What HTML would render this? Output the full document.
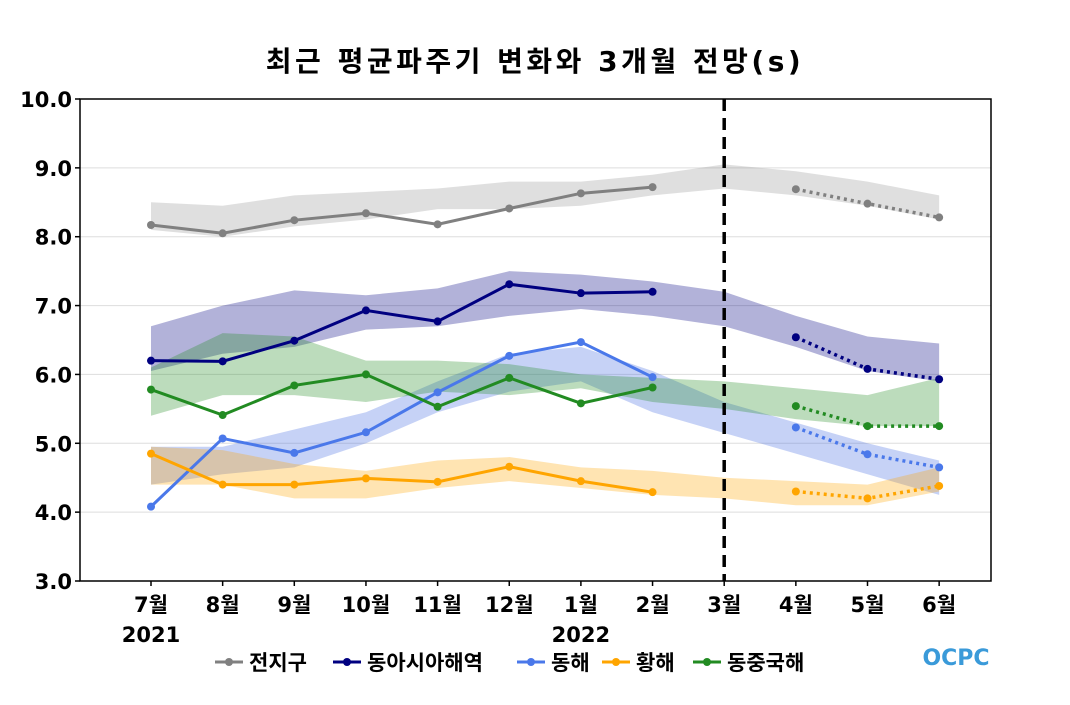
<!DOCTYPE html>
<html><head><meta charset="utf-8">
<style>
body{margin:0;background:#fff;}
svg text{font-family:"DejaVu Sans","Noto Sans CJK KR",sans-serif;}
</style></head>
<body>
<svg id="chart" width="1070" height="700" xmlns="http://www.w3.org/2000/svg">
<text x="535" y="71" text-anchor="middle" font-size="28" font-weight="bold" letter-spacing="3.5">최근 평균파주기 변화와 3개월 전망(s)</text>
<g id="grid"></g><g id="bands"></g><g id="lines"></g><g id="axes"></g>
<g id="legend"></g>
<text x="956" y="665" text-anchor="middle" font-size="22" font-weight="bold" fill="#3a9ad9">OCPC</text>
</svg>
<script>
const months=["7월","8월","9월","10월","11월","12월","1월","2월","3월","4월","5월","6월"];
const yTicks=[3,4,5,6,7,8,9,10];
const names=["전지구","동아시아해역","동해","황해","동중국해"];
const colors=["#808080","#000080","#4a78ea","#ffa500","#228b22"];
const bandFill=["rgba(128,128,128,0.25)","rgba(0,0,128,0.3)","rgba(65,105,225,0.3)","rgba(255,165,0,0.3)","rgba(34,139,34,0.3)"];
const obsGlobal=[8.17,8.05,8.24,8.34,8.18,8.41,8.63,8.72];
const obsEastAsia=[6.2,6.19,6.49,6.93,6.77,7.31,7.18,7.20];
const obsEastSea=[4.08,5.07,4.86,5.16,5.74,6.27,6.47,5.96];
const obsYellow=[4.85,4.40,4.40,4.49,4.44,4.66,4.45,4.29];
const obsECS=[5.78,5.41,5.84,6.0,5.53,5.95,5.58,5.81];
const fcGlobal=[8.69,8.48,8.28];
const fcEastAsia=[6.54,6.08,5.93];
const fcEastSea=[5.23,4.84,4.65];
const fcYellow=[4.30,4.20,4.38];
const fcECS=[5.54,5.25,5.25];
const upGlobal=[8.5,8.45,8.6,8.65,8.7,8.8,8.8,8.9,9.05,8.95,8.8,8.6];
const loGlobal=[8.1,8.0,8.15,8.25,8.4,8.4,8.45,8.6,8.7,8.6,8.45,8.25];
const upEastAsia=[6.7,7.0,7.22,7.15,7.25,7.5,7.45,7.35,7.2,6.85,6.55,6.45];
const loEastAsia=[6.05,6.3,6.4,6.65,6.7,6.85,6.95,6.85,6.7,6.4,6.05,5.9];
const upEastSea=[4.95,4.95,5.2,5.45,5.9,6.3,6.4,6.05,5.6,5.3,5.0,4.75];
const loEastSea=[4.4,4.55,4.65,5.0,5.45,5.75,5.9,5.45,5.15,4.85,4.55,4.25];
const upYellow=[4.95,4.9,4.7,4.6,4.75,4.8,4.65,4.6,4.5,4.45,4.4,4.65];
const loYellow=[4.4,4.4,4.2,4.2,4.35,4.45,4.35,4.25,4.2,4.1,4.1,4.3];
const upECS=[6.1,6.6,6.55,6.2,6.2,6.15,6.0,5.95,5.9,5.8,5.7,5.95];
const loECS=[5.4,5.7,5.7,5.6,5.75,5.7,5.8,5.6,5.5,5.35,5.25,5.25];

const obs=[obsGlobal,obsEastAsia,obsEastSea,obsYellow,obsECS];
const fc=[fcGlobal,fcEastAsia,fcEastSea,fcYellow,fcECS];
const ups=[upGlobal,upEastAsia,upEastSea,upYellow,upECS];
const los=[loGlobal,loEastAsia,loEastSea,loYellow,loECS];
const keys=["global","east-asia","east-sea","yellow-sea","east-china-sea"];

const L=80,R=991,T=99,B=581;
const x=i=>151+i*71.65;
const y=v=>B-(v-3)/7*(B-T);
const NS="http://www.w3.org/2000/svg";
function mk(tag,attrs,parent){const e=document.createElementNS(NS,tag);for(const k in attrs)e.setAttribute(k,attrs[k]);parent.appendChild(e);return e;}
const G=id=>document.getElementById(id);

yTicks.forEach(v=>{
  const l=mk("line",{x1:L,x2:R,y1:y(v),y2:y(v),stroke:"#ddd","stroke-width":1},G("grid"));
  
  
  const t=mk("text",{x:72,y:y(v)+8,"text-anchor":"end","font-size":21,"font-weight":"bold"},G("axes"));
  t.textContent=v.toFixed(1);
  
  
  const tk=mk("line",{x1:L-5,x2:L,y1:y(v),y2:y(v),stroke:"#000","stroke-width":1.5},G("axes"));
  
  
});
months.forEach((m,i)=>{
  const t=mk("text",{x:x(i),y:612,"text-anchor":"middle","font-size":21,"font-weight":"bold"},G("axes"));
  t.textContent=m;
  
  
  const tk=mk("line",{x1:x(i),x2:x(i),y1:B,y2:B+5,stroke:"#000","stroke-width":1.5},G("axes"));
  
  
});
[["2021",0],["2022",6]].forEach(([s,i])=>{
  const t=mk("text",{x:x(i),y:642,"text-anchor":"middle","font-size":21,"font-weight":"bold"},G("axes"));
  t.textContent=s;
  
  
});
const fr=mk("rect",{x:L,y:T,width:R-L,height:B-T,fill:"none",stroke:"#000","stroke-width":1.5},G("axes"));


const dl=mk("line",{x1:x(8),x2:x(8),y1:T,y2:B,stroke:"#000","stroke-width":3.5,"stroke-dasharray":"12,7"},G("axes"));



for(let s=0;s<5;s++){
  const up=ups[s].map((v,i)=>x(i)+","+y(v));
  const lo=los[s].map((v,i)=>x(i)+","+y(v)).reverse();
  const b=mk("polygon",{points:up.concat(lo).join(" "),fill:bandFill[s],stroke:"none"},G("bands"));
  
  
  const p=mk("polyline",{points:obs[s].map((v,i)=>x(i)+","+y(v)).join(" "),fill:"none",stroke:colors[s],"stroke-width":3},G("lines"));
  
  
  const f=mk("polyline",{points:fc[s].map((v,i)=>x(i+9)+","+y(v)).join(" "),fill:"none",stroke:colors[s],"stroke-width":3.5,"stroke-dasharray":"3,4"},G("lines"));
  
  
  obs[s].forEach((v,i)=>{const c=mk("circle",{cx:x(i),cy:y(v),r:4,fill:colors[s]},G("lines"));
    
    });
  fc[s].forEach((v,i)=>{const c=mk("circle",{cx:x(i+9),cy:y(v),r:4,fill:colors[s]},G("lines"));
    
    });
}
const lx=[215,333,517,602,693];
const tx=[249,367,551,636,727];
names.forEach((n,s)=>{
  const g=mk("g",{},G("legend"));
  
  
  mk("line",{x1:lx[s],x2:lx[s]+28,y1:662,y2:662,stroke:colors[s],"stroke-width":3},g);
  mk("circle",{cx:lx[s]+14,cy:662,r:4,fill:colors[s]},g);
  const t=mk("text",{x:tx[s],y:670,"font-size":21,"font-weight":"bold"},g);
  t.textContent=n;
});
</script>
</body></html>
